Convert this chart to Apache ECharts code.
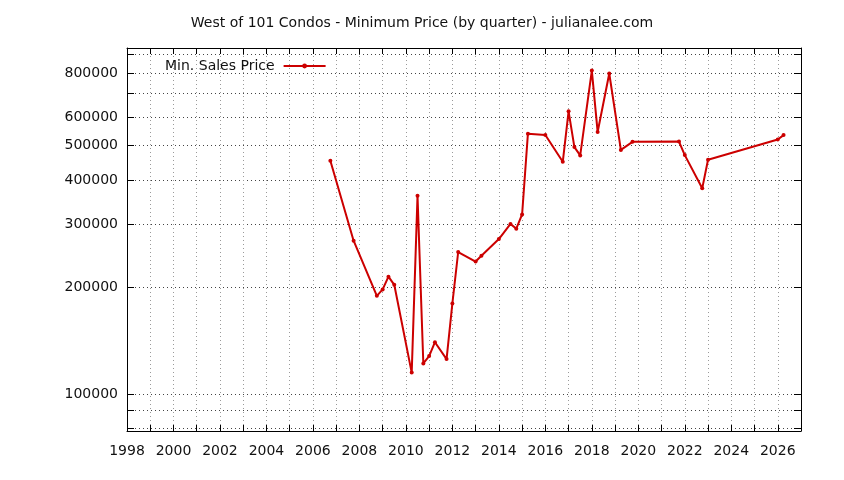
<!DOCTYPE html>
<html>
<head>
<meta charset="utf-8">
<script src="https://cdn.jsdelivr.net/npm/echarts@6/dist/echarts.min.js"></script>
<style>html,body{margin:0;padding:0;background:#fff}#c{width:844px;height:480px}</style>
</head>
<body>
<div id="c"></div>
<script>
const titleText = 'West of 101 Condos - Minimum Price (by quarter) - julianalee.com';
const seriesName = 'Min. Sales Price';
const quarters = [2006.75, 2007.75, 2008.75, 2009.0, 2009.25, 2009.5, 2010.25, 2010.5, 2010.75, 2011.0, 2011.25, 2011.75, 2012.0, 2012.25, 2013.0, 2013.25, 2014.0, 2014.5, 2014.75, 2015.0, 2015.25, 2016.0, 2016.75, 2017.0, 2017.25, 2017.5, 2018.0, 2018.25, 2018.75, 2019.25, 2019.75, 2021.75, 2022.0, 2022.75, 2023.0, 2026.0, 2026.25];
const minPrice = [453000, 270000, 189000, 197000, 214000, 203000, 115000, 361000, 122000, 128000, 140000, 125500, 180000, 251000, 236000, 245000, 273000, 301000, 292000, 320000, 540000, 535000, 450000, 624000, 495000, 469000, 812000, 546000, 797000, 486000, 512000, 513000, 470000, 379000, 456000, 520000, 535000];
const yGridValues = [80000, 90000, 100000, 200000, 300000, 400000, 500000, 600000, 700000, 800000, 900000];
const yLabelValues = [100000, 200000, 300000, 400000, 500000, 600000, 800000];

const font = 'DejaVu Sans';
const chart = echarts.init(document.getElementById('c'));
const data = quarters.map((q, i) => [q, minPrice[i]]);
const yBase = {
  type: 'log', logBase: 10, min: 78800, max: 940000,
  axisLine: { show: true, lineStyle: { color: '#000', width: 1 } }
};
const xBase = {
  type: 'value', min: 1998, max: 2027, interval: 1,
  axisLine: { show: true, lineStyle: { color: '#000', width: 1 } }
};
chart.setOption({
  animation: false,
  backgroundColor: '#fff',
  title: { text: titleText, left: 'center', top: 11, textStyle: { fontFamily: font, fontSize: 14, fontWeight: 'normal', color: '#111' } },
  legend: {
    left: 160, top: 54, align: 'right', itemWidth: 42, itemHeight: 6, itemGap: 10,
    textStyle: { fontFamily: font, fontSize: 14, color: '#111', padding: [0, 4, 0, 0] },
    data: [seriesName]
  },
  grid: { left: 127, right: 43, top: 48, bottom: 49, containLabel: false },
  xAxis: [
    Object.assign({}, xBase, {
      position: 'bottom',
      axisTick: { show: true, inside: true, length: 6, lineStyle: { color: '#000' } },
      axisLabel: { fontFamily: font, fontSize: 14, color: '#111', margin: 13,
        formatter: v => (v % 2 === 0 && v < 2027) ? String(v) : '' },
      splitLine: { show: true, lineStyle: { color: '#9a9a9a', type: [1, 3], width: 1 } }
    }),
    Object.assign({}, xBase, {
      position: 'top',
      axisTick: { show: true, inside: true, length: 6, lineStyle: { color: '#000' } },
      axisLabel: { show: false },
      splitLine: { show: false }
    })
  ],
  yAxis: [
    Object.assign({}, yBase, {
      position: 'left',
      axisTick: { show: true, inside: true, length: 7, customValues: yGridValues, lineStyle: { color: '#000' } },
      axisLabel: { fontFamily: font, fontSize: 14, color: '#111', margin: 9, customValues: yLabelValues, formatter: v => String(v) },
      splitLine: { show: true, lineStyle: { color: '#444', type: [1, 3], width: 1 } }
    }),
    Object.assign({}, yBase, {
      position: 'right',
      axisTick: { show: true, inside: true, length: 7, customValues: yGridValues, lineStyle: { color: '#000' } },
      axisLabel: { show: false },
      splitLine: { show: false }
    })
  ],
  series: [{
    name: seriesName, type: 'line', xAxisIndex: 0, yAxisIndex: 0,
    data: data, symbol: 'circle', symbolSize: 4, showSymbol: true,
    itemStyle: { color: '#cc0000' },
    lineStyle: { color: '#cc0000', width: 2 }
  }]
});
</script>
</body>
</html>
